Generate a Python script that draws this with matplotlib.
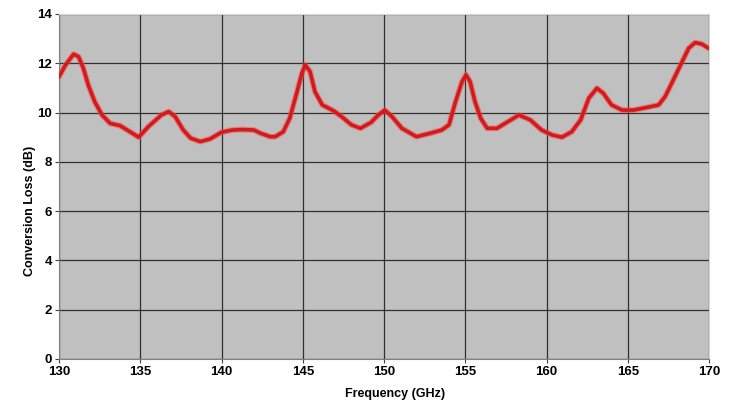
import numpy as np
import matplotlib.pyplot as plt

plt.rcParams['font.family'] = ['Liberation Sans Narrow', 'Liberation Sans', 'DejaVu Sans']

# 频率 (GHz) 与变频损耗 (dB)
freq = [130.0, 130.4, 130.9, 131.2, 131.5, 131.8, 132.2, 132.65, 133.15, 133.75,
        134.2, 134.9, 135.5, 136.3, 136.75, 137.15, 137.65, 138.1, 138.7, 139.3,
        140.0, 140.65, 141.3, 142.0, 142.4, 143.0, 143.3, 143.8, 144.2, 144.65,
        144.95, 145.15, 145.45, 145.75, 146.2, 146.9, 147.4, 148.0, 148.55, 149.2,
        149.65, 150.05, 150.5, 151.1, 152.0, 152.85, 153.55, 154.0, 154.4, 154.8,
        155.05, 155.3, 155.6, 155.95, 156.35, 156.95, 157.55, 158.3, 159.0, 159.7,
        160.35, 160.95, 161.55, 162.1, 162.6, 163.1, 163.5, 164.0, 164.65, 165.35,
        166.2, 166.9, 167.3, 167.8, 168.35, 168.75, 169.15, 169.55, 170.0]
loss = [11.45, 11.93, 12.37, 12.27, 11.8, 11.12, 10.44, 9.9, 9.56, 9.47,
        9.29, 9.0, 9.43, 9.9, 10.04, 9.83, 9.29, 8.96, 8.82, 8.93,
        9.2, 9.29, 9.31, 9.29, 9.16, 9.02, 9.02, 9.22, 9.77, 10.85,
        11.6, 11.93, 11.66, 10.85, 10.31, 10.07, 9.83, 9.5, 9.36, 9.6,
        9.9, 10.1, 9.83, 9.36, 9.02, 9.16, 9.29, 9.5, 10.44, 11.25,
        11.53, 11.25, 10.44, 9.77, 9.36, 9.36, 9.6, 9.9, 9.7, 9.29,
        9.09, 9.0, 9.22, 9.7, 10.58, 10.99, 10.78, 10.31, 10.1, 10.1,
        10.21, 10.31, 10.65, 11.32, 12.07, 12.61, 12.84, 12.78, 12.6]

xticks = [130, 135, 140, 145, 150, 155, 160, 165, 170]
yticks = [0, 2, 4, 6, 8, 10, 12, 14]

fig = plt.figure(figsize=(7.32, 4.04), dpi=100)
ax = fig.add_axes([0.0806, 0.1114, 0.888, 0.854])
ax.set_facecolor('#c0c0c0')

# 外圈浅红光晕 + 主线
ax.plot(freq, loss, color='#f25050', linewidth=4.2, alpha=0.55,
        solid_joinstyle='round', solid_capstyle='round', zorder=3)
ax.plot(freq, loss, color='#d41a1a', linewidth=2.6, solid_joinstyle='round',
        solid_capstyle='round', zorder=4)

ax.set_xlim(130, 170)
ax.set_ylim(0, 14)
ax.set_xticks(xticks)
ax.set_yticks(yticks)
ax.grid(True, color='#303030', linewidth=0.9)
ax.set_axisbelow(True)

for s in ['top', 'right']:
    ax.spines[s].set_color('#d8d8d8')
for s in ['left', 'bottom']:
    ax.spines[s].set_color('#808080')

ax.tick_params(length=3, width=0.8, color='#404040', labelsize=9.5, pad=2)
for lab in ax.get_xticklabels() + ax.get_yticklabels():
    lab.set_fontweight('bold')

ax.set_xlabel('Frequency (GHz)', fontsize=9, fontweight='bold')
ax.set_ylabel('Conversion Loss (dB)', fontsize=9, fontweight='bold')
ax.xaxis.set_label_coords(0.517, -0.085)
ax.yaxis.set_label_coords(-0.036, 0.43)

plt.savefig('out.png', dpi=100)
